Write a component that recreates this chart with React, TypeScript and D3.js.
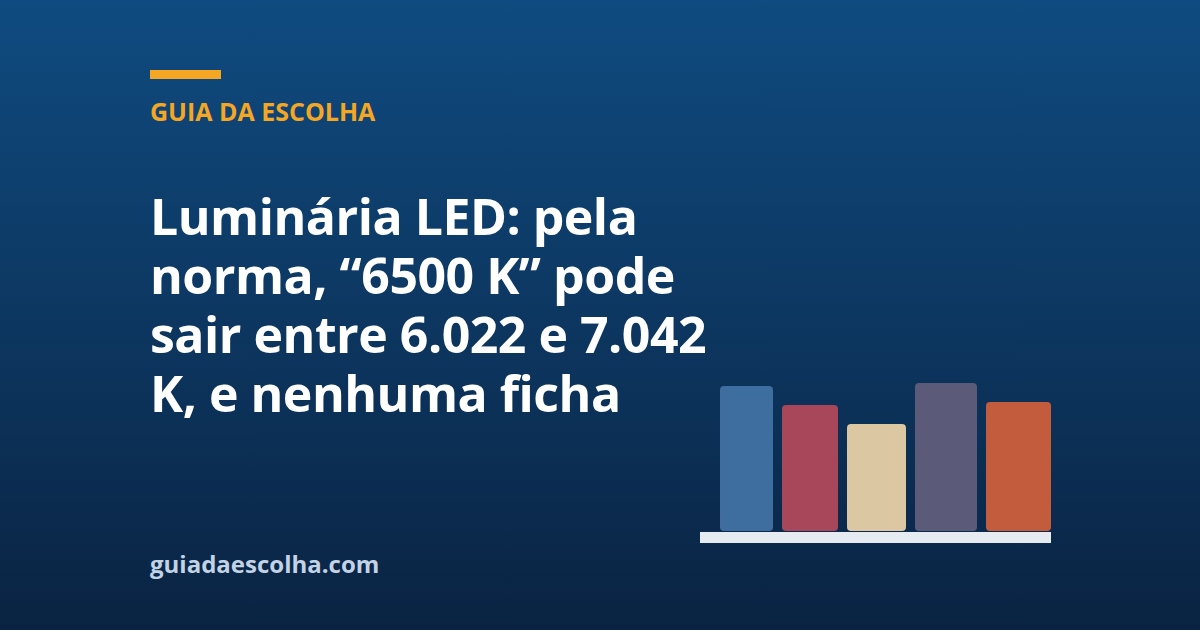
import { useEffect, useRef } from 'react';
import * as d3 from 'd3';

// dados
const categories = ['A', 'B', 'C', 'D', 'E'];
const barValues = [145, 126, 107, 148, 129];
const barColors = ['#3e6e9f', '#a84759', '#dbc7a1', '#5b5a78', '#c35b3d'];
const titleLines = [
  'Luminária LED: pela',
  'norma, “6500 K” pode',
  'sair entre 6.022 e 7.042',
  'K, e nenhuma ficha',
];

const App: React.FC = () => {
  const svgRef = useRef<SVGSVGElement | null>(null);

  useEffect(() => {
    if (svgRef.current === null) return;
    const width = 1200;
    const height = 630;
    const svg = d3.select(svgRef.current);
    svg.selectAll('*').remove();
    svg.attr('width', width).attr('height', height);

    // fundo em gradiente
    const defs = svg.append('defs');
    const grad = defs
      .append('linearGradient')
      .attr('id', 'bg')
      .attr('x1', 0)
      .attr('y1', 0)
      .attr('x2', 0)
      .attr('y2', 1);
    grad.append('stop').attr('offset', '0%').attr('stop-color', '#0f4b80');
    grad.append('stop').attr('offset', '100%').attr('stop-color', '#0a2342');
    svg
      .append('rect')
      .attr('width', width)
      .attr('height', height)
      .attr('fill', 'url(#bg)');

    const font = "'Segoe UI', 'Open Sans', 'Noto Sans', sans-serif";

    // faixa laranja + marca
    svg
      .append('rect')
      .attr('x', 150)
      .attr('y', 70)
      .attr('width', 71)
      .attr('height', 9)
      .attr('fill', '#f5a623');
    svg
      .append('text')
      .attr('x', 150)
      .attr('y', 121)
      .attr('fill', '#f5a623')
      .style('font-family', font)
      .style('font-weight', 700)
      .style('font-size', '25px')
      .text('GUIA DA ESCOLHA');

    // título
    svg
      .append('g')
      .selectAll('text')
      .data(titleLines)
      .enter()
      .append('text')
      .attr('x', 150)
      .attr('y', (_, i) => 235 + i * 59)
      .attr('fill', '#ffffff')
      .style('font-family', font)
      .style('font-weight', 700)
      .style('font-size', '50px')
      .style('letter-spacing', '-0.5px')
      .text((d) => d);

    svg
      .append('text')
      .attr('x', 150)
      .attr('y', 573)
      .attr('fill', '#c3d3e6')
      .style('font-family', font)
      .style('font-weight', 700)
      .style('font-size', '24px')
      .text('guiadaescolha.com');

    // barras
    const baseY = 531;
    const y = d3.scaleLinear().domain([0, 150]).range([baseY, baseY - 150]);
    const gap = 9;
    const widthOf = (i: number) => 53 + i * 3;
    const xOf = (i: number) => {
      let x = 720;
      for (let k = 0; k < i; k++) x += widthOf(k) + gap;
      return x;
    };

    svg
      .append('g')
      .selectAll('rect')
      .data(barValues)
      .enter()
      .append('rect')
      .attr('x', (_, i) => xOf(i))
      .attr('y', (d) => y(d))
      .attr('width', (_, i) => widthOf(i))
      .attr('height', (d) => baseY - y(d))
      .attr('rx', 4)
      .attr('fill', (_, i) => barColors[i])
      .append('title')
      .text((_, i) => categories[i]);

    // base
    const lastIdx = categories.length - 1;
    svg
      .append('rect')
      .attr('x', 700)
      .attr('y', 532)
      .attr('width', xOf(lastIdx) + widthOf(lastIdx) - 700)
      .attr('height', 11)
      .attr('fill', '#e6eaf1');
  }, []);

  return (
    <svg
      ref={svgRef}
      style={{ position: 'absolute', left: 0, top: 0, display: 'block' }}
    ></svg>
  );
};

export default App;
